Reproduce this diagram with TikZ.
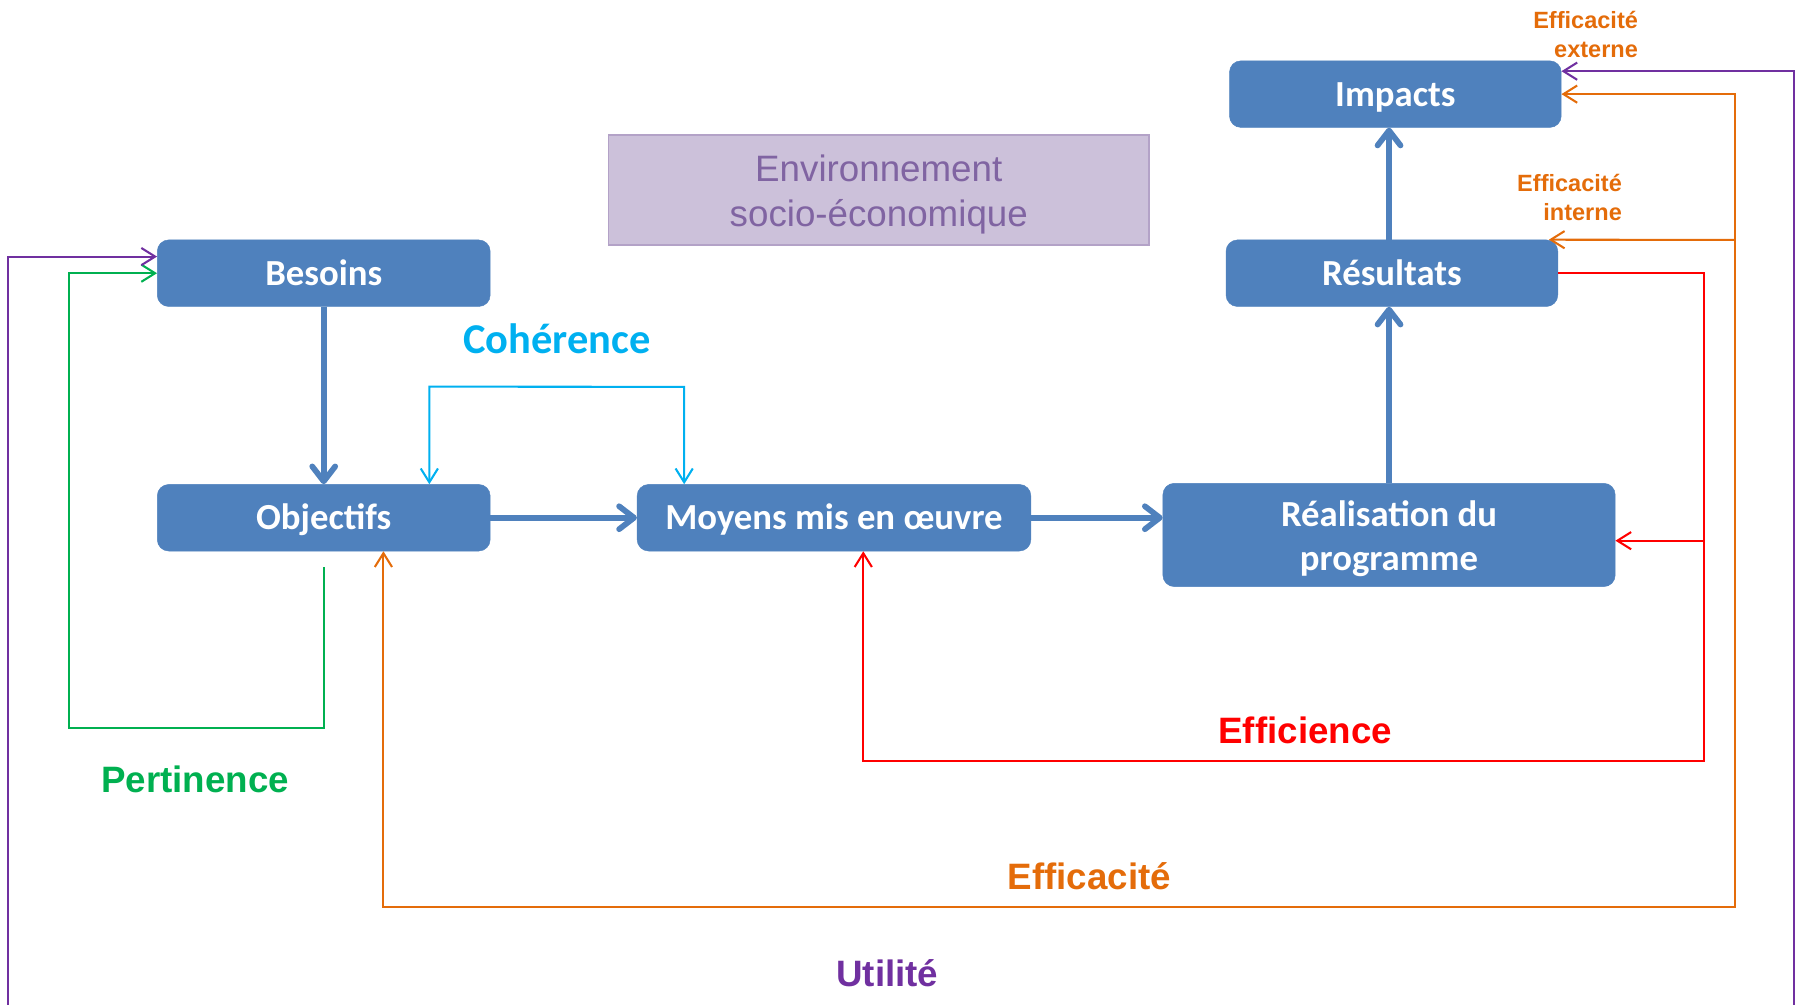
\documentclass[tikz,border=0pt]{standalone}
\usepackage{fontspec}
\setmainfont{Liberation Sans}
\newfontfamily\calfont{Carlito}
\usetikzlibrary{arrows.meta}
\definecolor{boxblue}{HTML}{4F81BD}
\definecolor{envfill}{HTML}{CCC1DA}
\definecolor{envdraw}{HTML}{B3A2C7}
\definecolor{envtext}{HTML}{8064A2}
\definecolor{cpurple}{HTML}{7030A0}
\definecolor{corange}{HTML}{E46C0A}
\definecolor{cred}{HTML}{FF0000}
\definecolor{cgreen}{HTML}{00B050}
\definecolor{ccyan}{HTML}{00B0F0}
\tikzset{
  box/.style={fill=boxblue, draw=boxblue, rounded corners=10pt, minimum height=58pt, inner sep=0pt, text=white, text height=22pt, text depth=1pt, font=\calfont\bfseries\fontsize{32}{39}\selectfont},
  envbox/.style={fill=envfill, draw=envdraw, line width=1.5pt, minimum width=471pt, minimum height=96pt, inner sep=0pt, text=envtext, align=center, text height=66pt, text depth=2pt, font=\fontsize{32}{39}\selectfont},
  lab/.style={inner sep=0pt, font=\bfseries\fontsize{32}{36}\selectfont},
  smalllab/.style={inner sep=0pt, text=corange, align=right, anchor=east, font=\bfseries\fontsize{20.5}{25.5}\selectfont},
  bigarrow/.style={draw=boxblue, line width=5pt, -{Straight Barb[length=13pt, width=20pt, round]}},
  thinline/.style={line width=1.8pt},
  tip/.tip={Straight Barb[length=12pt, width=15pt]}
}
\begin{document}
\begin{tikzpicture}[x=1pt, y=-1pt]
\useasboundingbox (0,0) rectangle (1568,875);
\clip (0,0) rectangle (1568,875);

% main boxes
\node[box, minimum width=290pt] (bes) at (282,238) {Besoins};
\node[box, minimum width=290pt] (obj) at (282,451) {Objectifs};
\node[box, minimum width=343pt] (moy) at (726.5,451) {Moyens mis en œuvre};
\node[box, minimum width=394pt, minimum height=90pt, align=center, text height=64.5pt, text depth=2pt] (rea) at (1210,466) {Réalisation du\\programme};
\node[box, minimum width=289pt] (res) at (1212.5,238) {Résultats};
\node[box, minimum width=289pt] (imp) at (1215.5,82) {Impacts};
\node[envbox] (env) at (765.5,165.5) {Environnement\\socio-économique};

% labels
\node[inner sep=0pt, text=ccyan, font=\calfont\bfseries\fontsize{37}{40}\selectfont] (coh) at (485,295) {Cohérence};
\node[lab, text=cgreen] (pert) at (170,679) {Pertinence};
\node[lab, text=cred] (effi) at (1137,636) {Efficience};
\node[lab, text=corange] (effa) at (949,763) {Efficacité};
\node[lab, text=cpurple] (util) at (773,848) {Utilité};
\node[smalllab] (ext) at (1427,30) {Efficacité\\externe};
\node[smalllab] (int) at (1413,172) {Efficacité\\interne};

% main flow
\draw[bigarrow] (bes) -- (obj);
\draw[bigarrow] (obj) -- (moy);
\draw[bigarrow] (moy.east) -- (moy.east -| rea.west);
\draw[bigarrow] (rea.north) -- (rea.north |- res.south);
\draw[bigarrow] (rea.north |- res.north) -- (rea.north |- imp.south);

% coherence (cyan)
\draw[thinline, ccyan, {tip}-{tip}] ([xshift=92pt]obj.north) -- ++(0,-85) -- (596,337) -- ([xshift=-130.5pt]moy.north);

% pertinence (green)
\coordinate (g0) at ([yshift=-14pt]obj.south);
\draw[thinline, cgreen, -{tip}] (g0) -- (282,634) -- (60,634) -- (60,238) -- (bes.west);

% utilite (purple)
\draw[thinline, cpurple, {tip}-{tip}] ([yshift=20pt]imp.east) -- (1563,62) -- (1563,895) -- (7,895) -- (7,223.5) -- ([yshift=14.5pt]bes.west);

% efficacite (orange)
\coordinate (o1) at (334,790);
\draw[thinline, corange, {tip}-{tip}] (imp.east) -- (1511,82) -- (1511,790) -- (o1) -- (o1 |- obj.south);
\coordinate (oc) at (1511,209);
\draw[thinline, corange, -{tip}] (oc) -- ([xshift=-8pt]res.north east);

% efficience (red)
\coordinate (r1) at (752,663);
\draw[thinline, cred, -{tip}] (res.east) -- (1484,238) -- (1484,663) -- (r1) -- (r1 |- moy.south);
\coordinate (rc) at (1484,471);
\draw[thinline, cred, -{tip}] (rc) -- ([yshift=-5pt]rea.east);
\end{tikzpicture}
\end{document}
